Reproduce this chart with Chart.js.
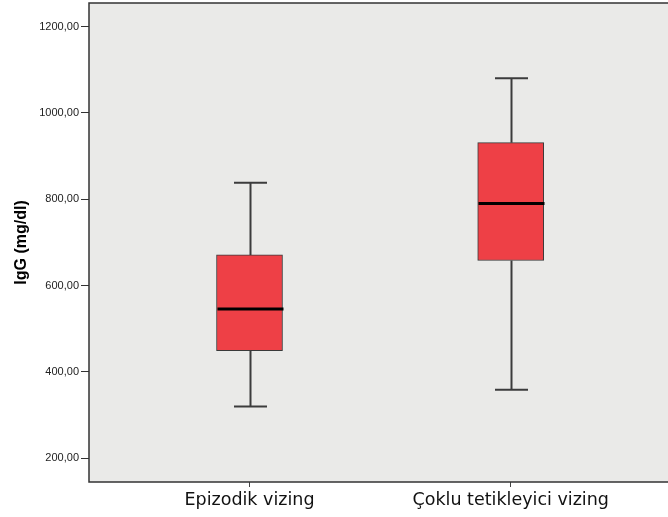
<!DOCTYPE html>
<html>
<head>
<meta charset="utf-8">
<script src="https://cdn.jsdelivr.net/npm/chart.js@4/dist/chart.umd.min.js"></script>
<style>
  body { margin: 0; background: #fff; }
  canvas { display: block; }
</style>
</head>
<body>
<canvas id="chart" width="668" height="517"></canvas>
<script>
// Box plot values
const categories = ['Epizodik vizing', 'Çoklu tetikleyici vizing'];
const positions = [1, 2];
const mins = [320, 359];
const q1s = [449, 658];
const medians = [546, 790];
const q3s = [671, 931];
const maxs = [838, 1080];
const yTicks = [200, 400, 600, 800, 1000, 1200];

// Whiskers, caps and medians drawn through the chart scales
const boxExtras = {
    id: 'boxExtras',
    beforeDraw(chart) {
        const {ctx, chartArea: a} = chart;
        ctx.save();
        ctx.fillStyle = '#eaeae8';
        ctx.fillRect(a.left, a.top, a.right - a.left, a.bottom - a.top);
        ctx.restore();
    },
    afterDatasetsDraw(chart) {
        const {ctx} = chart;
        const x = chart.scales.x;
        const y = chart.scales.y;
        ctx.save();
        positions.forEach((p, i) => {
            const cx = Math.round(x.getPixelForValue(p)) + 0.5;
            ctx.strokeStyle = '#3c3c3c';
            ctx.lineWidth = 2;
            ctx.beginPath();
            ctx.moveTo(cx, y.getPixelForValue(maxs[i]));
            ctx.lineTo(cx, y.getPixelForValue(q3s[i]));
            ctx.moveTo(cx, y.getPixelForValue(q1s[i]));
            ctx.lineTo(cx, y.getPixelForValue(mins[i]));
            ctx.moveTo(cx - 16.5, y.getPixelForValue(maxs[i]));
            ctx.lineTo(cx + 16.5, y.getPixelForValue(maxs[i]));
            ctx.moveTo(cx - 16.5, y.getPixelForValue(mins[i]));
            ctx.lineTo(cx + 16.5, y.getPixelForValue(mins[i]));
            ctx.stroke();

            // median
            ctx.strokeStyle = '#000';
            ctx.lineWidth = 3;
            ctx.beginPath();
            ctx.moveTo(cx - 33, y.getPixelForValue(medians[i]));
            ctx.lineTo(cx + 33, y.getPixelForValue(medians[i]));
            ctx.stroke();
        });
        ctx.restore();
    },
    afterDraw(chart) {
        const {ctx, chartArea: a} = chart;
        ctx.save();
        ctx.strokeStyle = '#333';
        ctx.lineWidth = 1.5;
        ctx.beginPath();
        ctx.moveTo(a.right, a.top);
        ctx.lineTo(a.left, a.top);
        ctx.lineTo(a.left, a.bottom);
        ctx.lineTo(a.right, a.bottom);
        ctx.stroke();
        ctx.restore();
    }
};

const ctx = document.getElementById('chart').getContext('2d');
new Chart(ctx, {
    type: 'bar',
    data: {
        datasets: [{
            data: positions.map((p, i) => ({x: p, y: [q1s[i], q3s[i]]})),
            backgroundColor: '#ee4046',
            borderColor: '#3a3a3a',
            borderWidth: 1,
            borderSkipped: false,
            barThickness: 66,
        }],
    },
    options: {
        responsive: false,
        animation: false,
        layout: {padding: {top: 3, right: 0, bottom: 0, left: 0}},
        plugins: {
            legend: {display: false},
            tooltip: {enabled: false},
        },
        scales: {
            x: {
                type: 'linear',
                offset: false,
                min: 0.3855,
                max: 2.6022,
                afterBuildTicks: (scale) => {
                    scale.ticks = positions.map(v => ({value: v}));
                },
                afterFit: (scale) => {
                    scale.height = 35;
                    scale.paddingLeft = 0;
                    scale.paddingRight = 0;
                },
                grid: {
                    offset: false,
                    drawOnChartArea: false,
                    drawTicks: true,
                    tickLength: 5,
                    color: '#444',
                },
                border: {display: false},
                ticks: {
                    padding: 3,
                    maxRotation: 0,
                    autoSkip: false,
                    color: '#111',
                    font: {family: 'DejaVu Sans', size: 17.5},
                    callback: (v) => categories[positions.indexOf(v)],
                },
            },
            y: {
                min: 145.1,
                max: 1254.4,
                afterBuildTicks: (scale) => {
                    scale.ticks = yTicks.map(v => ({value: v}));
                },
                afterFit: (scale) => {
                    scale.width = 89;
                    scale.paddingTop = 0;
                    scale.paddingBottom = 0;
                },
                grid: {
                    drawOnChartArea: false,
                    drawTicks: true,
                    tickLength: 8,
                    color: '#333',
                },
                border: {display: false},
                ticks: {
                    padding: 2,
                    color: '#222',
                    font: {family: 'Liberation Sans', size: 11},
                    callback: (v) => v.toFixed(2).replace('.', ','),
                },
                title: {
                    display: true,
                    text: 'IgG (mg/dl)',
                    color: '#000',
                    font: {family: 'Liberation Sans', size: 16, weight: 'bold'},
                    padding: {top: 12, bottom: 0},
                },
            },
        },
    },
    plugins: [boxExtras],
});
</script>
</body>
</html>
